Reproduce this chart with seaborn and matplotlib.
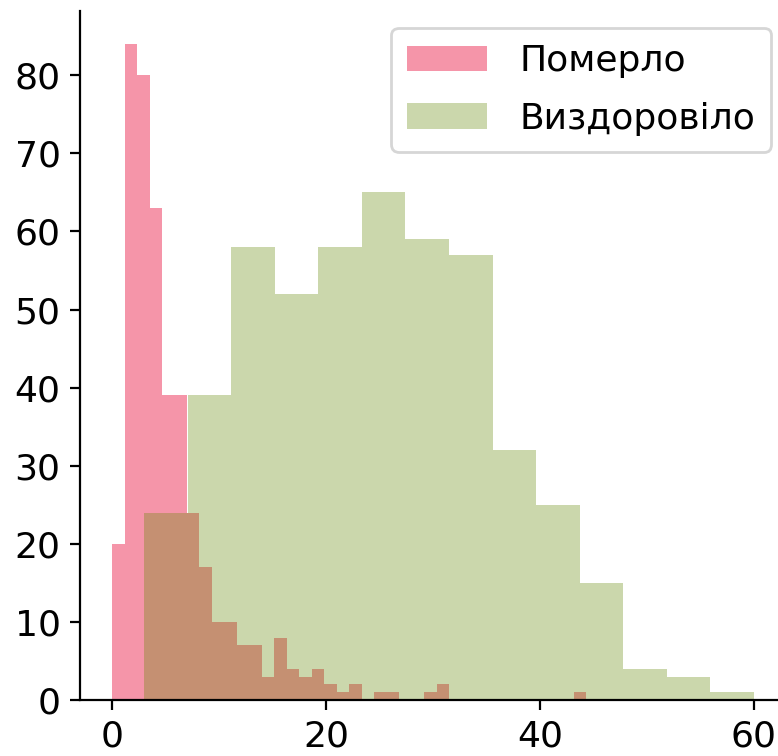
import numpy as np
import matplotlib
matplotlib.use("Agg")
import matplotlib.pyplot as plt
import seaborn as sns

# Histogram counts per bin
died_label = "Померло"
died_range = (0.0, 44.33)
died_counts = [20, 84, 80, 63, 39, 39, 24, 17, 10, 10, 7, 7, 3, 8, 4, 3, 4, 2, 1, 2,
               0, 1, 1, 0, 0, 1, 2, 0, 0, 0, 0, 0, 0, 0, 0, 0, 0, 1]

recovered_label = "Виздоровіло"
recovered_range = (3.0, 60.0)
recovered_counts = [24, 39, 58, 52, 58, 65, 59, 57, 32, 25, 15, 4, 3, 1]

x_ticks = [0, 20, 40, 60]
y_ticks = [0, 10, 20, 30, 40, 50, 60, 70, 80]

died_color = "#eb1441"
died_alpha = 0.45
recovered_color = "#628600"
recovered_alpha = 0.325


def bin_centers(rng, n):
    edges = np.linspace(rng[0], rng[1], n + 1)
    return (edges[:-1] + edges[1:]) / 2


plt.rcParams["font.size"] = 13
plt.rcParams["font.family"] = ["DejaVu Sans"]

fig = plt.figure(figsize=(3.89, 3.78), dpi=200)
ax = fig.add_axes([80 / 778, 56 / 756, 706 / 778, 688.8 / 756])

sns.histplot(x=bin_centers(died_range, len(died_counts)), weights=died_counts,
             bins=len(died_counts), binrange=died_range,
             color=died_color, alpha=died_alpha, linewidth=0,
             label=died_label, ax=ax)
sns.histplot(x=bin_centers(recovered_range, len(recovered_counts)), weights=recovered_counts,
             bins=len(recovered_counts), binrange=recovered_range,
             color=recovered_color, alpha=recovered_alpha, linewidth=0,
             label=recovered_label, ax=ax)

ax.set_xlim(-3, 63)
ax.set_ylim(0, 88.2)
ax.set_xticks(x_ticks)
ax.set_yticks(y_ticks)
ax.set_xlabel("")
ax.set_ylabel("")
sns.despine(ax=ax)

ax.legend(loc="upper right", bbox_to_anchor=(771 / 778, 1 - 28 / 756),
          bbox_transform=fig.transFigure, borderaxespad=0,
          handlelength=2.2, handletextpad=0.9, labelspacing=0.66, borderpad=0.44)

fig.savefig("out.png", dpi=200)
